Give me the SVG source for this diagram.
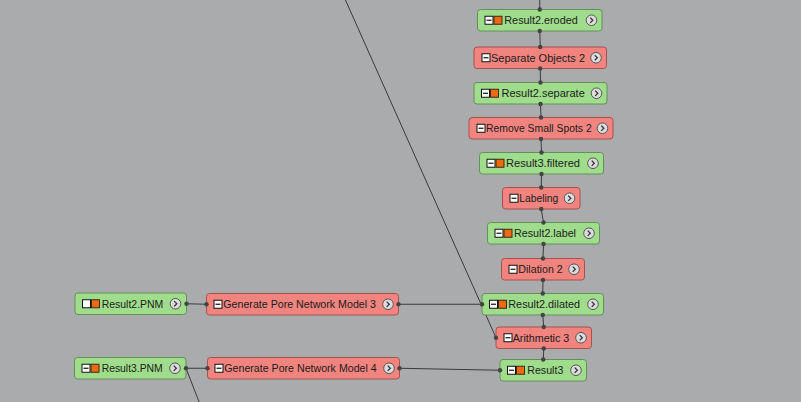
<svg xmlns="http://www.w3.org/2000/svg" xmlns:xlink="http://www.w3.org/1999/xlink" width="801" height="402" viewBox="0 0 801 402">
<style>
.bg{fill:#a9abad}
.data{fill:#9fdc8b;stroke:#62905a;stroke-width:1}
.proc{fill:#f1847f;stroke:#a5524e;stroke-width:1}
.t{font-family:"Liberation Sans",Arial,sans-serif;font-size:11.2px;fill:#1c1c1c}
.c{stroke:#3a3a3a;stroke-width:1;fill:none}
.p{fill:#444}
</style>
<defs>
<g id="cb"><rect x="0.5" y="0.5" width="8" height="8" fill="#fff" stroke="#111" stroke-width="1"/><line x1="2" y1="4.5" x2="7" y2="4.5" stroke="#111" stroke-width="1.2"/></g>
<g id="cbe"><rect x="0.5" y="0.5" width="8" height="8" fill="#fff" stroke="#111" stroke-width="1"/></g>
<g id="or"><rect x="0.5" y="0.5" width="8" height="8" fill="#ee6a10" stroke="#3a2a1a" stroke-width="1"/></g>
<g id="ic"><circle cx="0" cy="0" r="5.3" fill="#dcdcdc" stroke="#555" stroke-width="1"/><polyline points="-1.3,-2.6 1.3,0 -1.3,2.6" fill="none" stroke="#333" stroke-width="1.3"/></g>
</defs>
<rect class="bg" x="0" y="0" width="801" height="402"/>
<g id="connectors">
<line class="c" x1="345" y1="-1" x2="496" y2="337.75"/>
<line class="c" x1="539.75" y1="0" x2="539.75" y2="9.5"/>
<line class="c" x1="539.75" y1="31" x2="540.25" y2="47"/>
<line class="c" x1="540.25" y1="68.5" x2="540.5" y2="82.5"/>
<line class="c" x1="540.5" y1="104" x2="541" y2="117.5"/>
<line class="c" x1="541" y1="139" x2="541.5" y2="152.5"/>
<line class="c" x1="541.5" y1="174" x2="541.25" y2="187.5"/>
<line class="c" x1="541.25" y1="209" x2="543.5" y2="222.5"/>
<line class="c" x1="543.5" y1="244" x2="543" y2="258.5"/>
<line class="c" x1="543" y1="280" x2="542.75" y2="293.5"/>
<line class="c" x1="542.75" y1="315" x2="543.75" y2="327"/>
<line class="c" x1="543.75" y1="348.5" x2="543.25" y2="359.5"/>
<line class="c" x1="398.5" y1="304.25" x2="482" y2="304.25"/>
<line class="c" x1="399.5" y1="368.25" x2="500" y2="370.25"/>
<line class="c" x1="186.5" y1="303.75" x2="206.5" y2="304.25"/>
<line class="c" x1="186" y1="368.25" x2="207.5" y2="368.25"/>
<line class="c" x1="186" y1="368.25" x2="199.5" y2="403"/>
</g>
<g id="n-eroded">
<rect class="data" x="477.5" y="9.5" width="124.5" height="21.5" rx="3"/>
<use xlink:href="#cb" x="484.5" y="15.75"/><use xlink:href="#or" x="493.5" y="15.75"/>
<text class="t" x="504.3" y="24.25" textLength="73.4" lengthAdjust="spacingAndGlyphs">Result2.eroded</text>
<use xlink:href="#ic" x="591.5" y="20.25"/>
<circle class="p" cx="539.75" cy="9.5" r="2.2"/><circle class="p" cx="539.75" cy="31" r="2.2"/>
</g>
<g id="n-sep">
<rect class="proc" x="474" y="47" width="132.5" height="21.5" rx="3"/>
<use xlink:href="#cb" x="481.5" y="53.25"/>
<text class="t" x="491" y="61.75" textLength="94" lengthAdjust="spacingAndGlyphs">Separate Objects 2</text>
<use xlink:href="#ic" x="596" y="57.75"/>
<circle class="p" cx="540.25" cy="47" r="2.2"/><circle class="p" cx="540.25" cy="68.5" r="2.2"/>
</g>
<g id="n-separate">
<rect class="data" x="474" y="82.5" width="133" height="21.5" rx="3"/>
<use xlink:href="#cb" x="481" y="88.75"/><use xlink:href="#or" x="490" y="88.75"/>
<text class="t" x="501.5" y="97.25" textLength="83.3" lengthAdjust="spacingAndGlyphs">Result2.separate</text>
<use xlink:href="#ic" x="596.5" y="93.25"/>
<circle class="p" cx="540.5" cy="82.5" r="2.2"/><circle class="p" cx="540.5" cy="104" r="2.2"/>
</g>
<g id="n-rss">
<rect class="proc" x="469" y="117.5" width="144" height="21.5" rx="3"/>
<use xlink:href="#cb" x="476.5" y="123.75"/>
<text class="t" x="486" y="132.25" textLength="105.7" lengthAdjust="spacingAndGlyphs">Remove Small Spots 2</text>
<use xlink:href="#ic" x="602.5" y="128.25"/>
<circle class="p" cx="541" cy="117.5" r="2.2"/><circle class="p" cx="541" cy="139" r="2.2"/>
</g>
<g id="n-filtered">
<rect class="data" x="479.5" y="152.5" width="124" height="21.5" rx="3"/>
<use xlink:href="#cb" x="486.5" y="158.75"/><use xlink:href="#or" x="495.5" y="158.75"/>
<text class="t" x="506" y="167.25" textLength="74" lengthAdjust="spacingAndGlyphs">Result3.filtered</text>
<use xlink:href="#ic" x="593" y="163.25"/>
<circle class="p" cx="541.5" cy="152.5" r="2.2"/><circle class="p" cx="541.5" cy="174" r="2.2"/>
</g>
<g id="n-labeling">
<rect class="proc" x="502.5" y="187.5" width="77.5" height="21.5" rx="3"/>
<use xlink:href="#cb" x="509.5" y="193.75"/>
<text class="t" x="519.3" y="202.25" textLength="39" lengthAdjust="spacingAndGlyphs">Labeling</text>
<use xlink:href="#ic" x="569.5" y="198.25"/>
<circle class="p" cx="541.25" cy="187.5" r="2.2"/><circle class="p" cx="541.25" cy="209" r="2.2"/>
</g>
<g id="n-label">
<rect class="data" x="487.5" y="222.5" width="112" height="21.5" rx="3"/>
<use xlink:href="#cb" x="494.5" y="228.75"/><use xlink:href="#or" x="503.5" y="228.75"/>
<text class="t" x="514" y="237.25" textLength="62" lengthAdjust="spacingAndGlyphs">Result2.label</text>
<use xlink:href="#ic" x="589" y="233.25"/>
<circle class="p" cx="543.5" cy="222.5" r="2.2"/><circle class="p" cx="543.5" cy="244" r="2.2"/>
</g>
<g id="n-dil2">
<rect class="proc" x="501.5" y="258.5" width="83" height="21.5" rx="3"/>
<use xlink:href="#cb" x="508.5" y="264.75"/>
<text class="t" x="518.3" y="273.25" textLength="44.4" lengthAdjust="spacingAndGlyphs">Dilation 2</text>
<use xlink:href="#ic" x="574" y="269.25"/>
<circle class="p" cx="543" cy="258.5" r="2.2"/><circle class="p" cx="543" cy="280" r="2.2"/>
</g>
<g id="n-dilated">
<rect class="data" x="482" y="293.5" width="121.5" height="21.5" rx="3"/>
<use xlink:href="#cb" x="489" y="299.75"/><use xlink:href="#or" x="498" y="299.75"/>
<text class="t" x="508.3" y="308.25" textLength="71.7" lengthAdjust="spacingAndGlyphs">Result2.dilated</text>
<use xlink:href="#ic" x="593" y="304.25"/>
<circle class="p" cx="542.75" cy="293.5" r="2.2"/><circle class="p" cx="542.75" cy="315" r="2.2"/><circle class="p" cx="482" cy="304.25" r="2.2"/>
</g>
<g id="n-arith">
<rect class="proc" x="496" y="327" width="95.5" height="21.5" rx="3"/>
<use xlink:href="#cb" x="503.5" y="333.25"/>
<text class="t" x="512.7" y="341.75" textLength="56.6" lengthAdjust="spacingAndGlyphs">Arithmetic 3</text>
<use xlink:href="#ic" x="581" y="337.75"/>
<circle class="p" cx="543.75" cy="327" r="2.2"/><circle class="p" cx="543.75" cy="348.5" r="2.2"/><circle class="p" cx="496" cy="337.75" r="2.2"/>
</g>
<g id="n-result3">
<rect class="data" x="500" y="359.5" width="86.5" height="21.5" rx="3"/>
<use xlink:href="#cb" x="507" y="365.75"/><use xlink:href="#or" x="516" y="365.75"/>
<text class="t" x="527.3" y="374.25" textLength="36" lengthAdjust="spacingAndGlyphs">Result3</text>
<use xlink:href="#ic" x="576" y="370.25"/>
<circle class="p" cx="543.25" cy="359.5" r="2.2"/><circle class="p" cx="500" cy="370.25" r="2.2"/>
</g>
<g id="n-r2pnm">
<rect class="data" x="75" y="293" width="111.5" height="21.5" rx="3"/>
<use xlink:href="#cbe" x="82" y="299.25"/><use xlink:href="#or" x="91" y="299.25"/>
<text class="t" x="101.7" y="307.75" textLength="61.6" lengthAdjust="spacingAndGlyphs">Result2.PNM</text>
<use xlink:href="#ic" x="175.5" y="303.75"/>
<circle class="p" cx="186.5" cy="303.75" r="2.2"/>
</g>
<g id="n-gpnm3">
<rect class="proc" x="206.5" y="293.5" width="192" height="21.5" rx="3"/>
<use xlink:href="#cb" x="213.5" y="299.75"/>
<text class="t" x="223.3" y="308.25" textLength="152.7" lengthAdjust="spacingAndGlyphs">Generate Pore Network Model 3</text>
<use xlink:href="#ic" x="388" y="304.25"/>
<circle class="p" cx="206.5" cy="304.25" r="2.2"/><circle class="p" cx="398.5" cy="304.25" r="2.2"/>
</g>
<g id="n-r3pnm">
<rect class="data" x="74.5" y="357.5" width="111.5" height="21.5" rx="3"/>
<use xlink:href="#cb" x="81.5" y="363.75"/><use xlink:href="#or" x="90.5" y="363.75"/>
<text class="t" x="101.7" y="372.25" textLength="61" lengthAdjust="spacingAndGlyphs">Result3.PNM</text>
<use xlink:href="#ic" x="175" y="368.25"/>
<circle class="p" cx="186" cy="368.25" r="2.2"/>
</g>
<g id="n-gpnm4">
<rect class="proc" x="207.5" y="357.5" width="192" height="21.5" rx="3"/>
<use xlink:href="#cb" x="214.5" y="363.75"/>
<text class="t" x="224.3" y="372.25" textLength="152.4" lengthAdjust="spacingAndGlyphs">Generate Pore Network Model 4</text>
<use xlink:href="#ic" x="389" y="368.25"/>
<circle class="p" cx="207.5" cy="368.25" r="2.2"/><circle class="p" cx="399.5" cy="368.25" r="2.2"/>
</g>
</svg>
